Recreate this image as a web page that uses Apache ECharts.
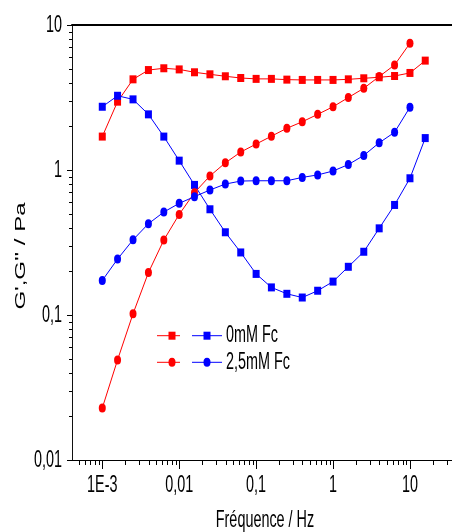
<!DOCTYPE html>
<html><head><meta charset="utf-8">
<script src="https://cdn.jsdelivr.net/npm/echarts@6/dist/echarts.min.js"></script>
<style>html,body{margin:0;padding:0;background:#fff}#c{width:452px;height:532px}</style>
</head><body><div id="c"></div>
<script>
// ---- data ----
const freq = [0.001, 0.00158, 0.00251, 0.00398, 0.00631, 0.01, 0.0158, 0.0251, 0.0398, 0.0631,
  0.1, 0.158, 0.251, 0.398, 0.631, 1, 1.58, 2.51, 3.98, 6.31, 10, 15.8];
// 0mM Fc (squares)
const red0 = [1.70, 2.96, 4.22, 4.89, 5.03, 4.94, 4.72, 4.57, 4.43, 4.31, 4.25, 4.25, 4.20, 4.18, 4.18, 4.18, 4.22, 4.29, 4.36, 4.45, 4.67, 5.68];
const blue0 = [2.73, 3.25, 3.07, 2.42, 1.70, 1.16, 0.789, 0.536, 0.372, 0.270, 0.192, 0.155, 0.140, 0.132, 0.147, 0.170, 0.215, 0.273, 0.396, 0.574, 0.877, 1.66];
// 2,5mM Fc (circles)
const red25 = [0.0228, 0.049, 0.102, 0.196, 0.329, 0.494, 0.698, 0.91, 1.12, 1.33, 1.51, 1.71, 1.94, 2.15, 2.42, 2.73, 3.16, 3.66, 4.41, 5.30, 7.48];
const blue25 = [0.173, 0.243, 0.330, 0.426, 0.513, 0.589, 0.655, 0.728, 0.800, 0.839, 0.843, 0.843, 0.843, 0.889, 0.925, 0.984, 1.09, 1.26, 1.54, 1.82, 2.71];

const xTickValues = [0.001, 0.01, 0.1, 1, 10];
const xTickLabels = ['1E-3', '0,01', '0,1', '1', '10'];
const yTickValues = [0.01, 0.1, 1, 10];
const yTickLabels = ['0,01', '0,1', '1', '10'];
const legendLabels = ['0mM Fc', '2,5mM Fc'];
const xTitle = 'Fréquence / Hz';
const yTitle = "G',G'' / Pa";

const xMin = 4.04e-4, xMax = 35.2, yMin = 0.01, yMax = 10;
const RED = '#ff0000', BLUE = '#0000ff';
const FONT = '24px "Liberation Sans", Arial, sans-serif';
const SX = 0.6; // horizontal compression of the original figure

function pairs(vals) { return vals.map((v, i) => [freq[i], v]); }

const chart = echarts.init(document.getElementById('c'), null, {renderer: 'canvas'});
function mkSeries(name, vals, color, sym, size) {
  return {
    name, type: 'line', data: pairs(vals), symbol: sym, symbolSize: size,
    showSymbol: true, lineStyle: {color, width: 1}, itemStyle: {color},
    emphasis: {disabled: true}, z: 3
  };
}
chart.setOption({
  animation: false,
  backgroundColor: '#fff',
  grid: {left: 72, right: 0, top: 25, bottom: 72, containLabel: false},
  xAxis: [
    {type: 'log', logBase: 10, min: xMin, max: xMax, position: 'bottom',
     axisLine: {onZero: false, lineStyle: {color: '#000', width: 1}},
     axisTick: {show: false}, axisLabel: {show: false}, splitLine: {show: false}},
    {type: 'log', logBase: 10, min: xMin, max: xMax, position: 'top',
     axisLine: {onZero: false, lineStyle: {color: '#000', width: 2}},
     axisTick: {show: false}, axisLabel: {show: false}, splitLine: {show: false}}
  ],
  yAxis: {type: 'log', logBase: 10, min: yMin, max: yMax,
    axisLine: {onZero: false, lineStyle: {color: '#111', width: 1}},
    axisTick: {show: false}, axisLabel: {show: false}, splitLine: {show: false}},
  series: [
    mkSeries("0mM Fc G'", red0, RED, 'rect', [7, 8]),
    mkSeries("0mM Fc G''", blue0, BLUE, 'rect', [7, 8]),
    mkSeries("2,5mM Fc G'", red25, RED, 'circle', [7, 9]),
    mkSeries("2,5mM Fc G''", blue25, BLUE, 'circle', [7, 9])
  ]
});

// ---- ticks, labels, titles, legend positioned through the chart's own scales ----
const X = v => chart.convertToPixel({xAxisIndex: 0}, v);
const Y = v => chart.convertToPixel({yAxisIndex: 0}, v);
const xb = Math.round(Y(yMin));   // bottom of plot
const xl = Math.round(X(xMin));   // left of plot
const g = [];
function tick(x1, y1, x2, y2) {
  g.push({type: 'line', silent: true, z: 10,
    shape: {x1, y1, x2, y2}, style: {stroke: '#000', lineWidth: 1}});
}
function label(text, x, y, align, opts) {
  g.push(Object.assign({type: 'text', silent: true, z: 10, x, y, scaleX: SX, scaleY: 1,
    style: {text, x: 0, y: 0, font: FONT, fill: '#000', align, verticalAlign: 'middle'}}, opts || {}));
}
// x ticks
xTickValues.forEach((v, i) => {
  const px = Math.round(X(v)) + 0.5;
  tick(px, xb, px, xb + 9);
  label(xTickLabels[i], X(v), xb + 25, 'center');
});
for (let d = -4; d <= 1; d++) for (let m = 2; m <= 9; m++) {
  const v = m * Math.pow(10, d);
  if (v > xMin && v < xMax) { const px = Math.round(X(v)) + 0.5; tick(px, xb, px, xb + 5); }
}
// y ticks
yTickValues.forEach((v, i) => {
  const py = Math.round(Y(v)) + 0.5;
  tick(xl - 5, py, xl, py);
  label(yTickLabels[i], xl - 10, Y(v), 'right');
});
for (let d = -2; d <= 0; d++) for (let m = 2; m <= 9; m++) {
  const v = m * Math.pow(10, d);
  const py = Math.round(Y(v)) + 0.5; tick(xl - 3, py, xl, py);
}
// axis titles
label(xTitle, 265, 520, 'center');
g.push({type: 'text', silent: true, z: 10, x: 21, y: 256, rotation: Math.PI / 2, scaleX: 1, scaleY: SX,
  style: {text: yTitle, x: 0, y: 0, font: FONT, fill: '#000', align: 'center', verticalAlign: 'middle'}});
// legend
const legRows = [335.7, 362.3];
legRows.forEach((ry, i) => {
  g.push({type: 'line', silent: true, z: 10, shape: {x1: 157, y1: ry, x2: 180, y2: ry}, style: {stroke: RED, lineWidth: 1}});
  g.push({type: 'line', silent: true, z: 10, shape: {x1: 192, y1: ry, x2: 222, y2: ry}, style: {stroke: BLUE, lineWidth: 1}});
  if (i === 0) {
    g.push({type: 'rect', silent: true, z: 11, shape: {x: 168.5, y: ry - 4, width: 7, height: 8}, style: {fill: RED}});
    g.push({type: 'rect', silent: true, z: 11, shape: {x: 203.5, y: ry - 4, width: 7, height: 8}, style: {fill: BLUE}});
  } else {
    g.push({type: 'circle', silent: true, z: 11, x: 172, y: ry, scaleX: 0.78, shape: {cx: 0, cy: 0, r: 4.5}, style: {fill: RED}});
    g.push({type: 'circle', silent: true, z: 11, x: 207, y: ry, scaleX: 0.78, shape: {cx: 0, cy: 0, r: 4.5}, style: {fill: BLUE}});
  }
  label(legendLabels[i], 226, ry, 'left');
});
chart.setOption({graphic: g});
</script></body></html>
